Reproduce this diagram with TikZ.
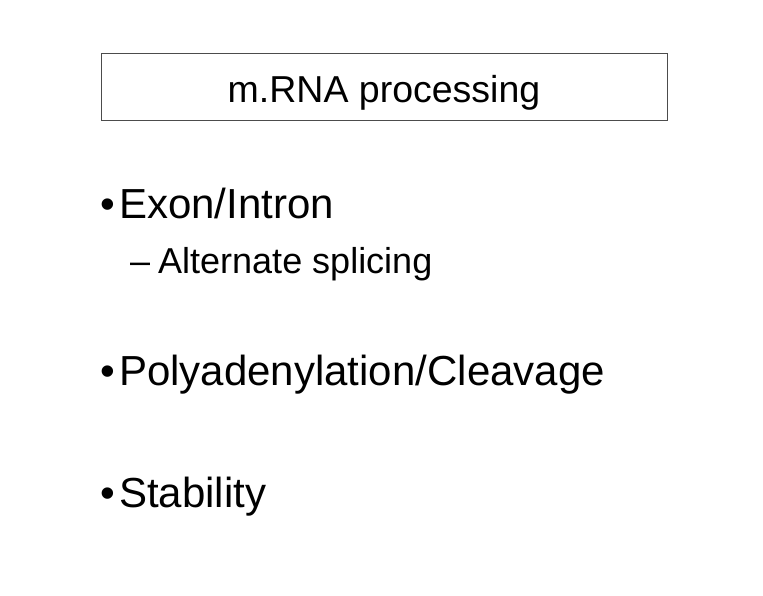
\documentclass[tikz,border=0pt]{standalone}
\usepackage{fontspec}
\setmainfont{Liberation Sans}
\begin{document}
\begin{tikzpicture}[x=1pt,y=-1pt,
  big/.style={font=\fontsize{42}{46}\selectfont,inner sep=0pt,anchor=base west},
  small/.style={font=\fontsize{36}{40}\selectfont,inner sep=0pt,anchor=base west}]
\useasboundingbox (0,0) rectangle (763,595);
\draw[black!70,line width=0.8pt] (101,53) rectangle (667,120);
\node[font=\fontsize{37.5}{40}\selectfont,inner sep=0pt,anchor=base] (title) at (384,102) {m.RNA processing};
\node[big] (b1) at (100,218) {•};
\node[big] (t1) at (119,218) {Exon/Intron};
\node[small] (d1) at (130,273) {–};
\node[small] (s1) at (158,273) {Alternate splicing};
\node[big] (b2) at (100,385) {•};
\node[big] (t2) at (119,385) {Polyadenylation/Cleavage};
\node[big] (b3) at (100,507) {•};
\node[big] (t3) at (119,507) {Stability};
\end{tikzpicture}
\end{document}
